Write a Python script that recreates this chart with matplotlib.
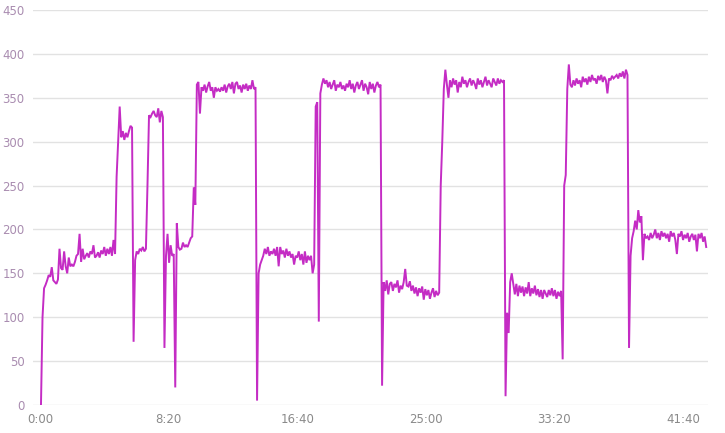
import numpy as np
import matplotlib.pyplot as plt

# power samples (watts), one every 6 seconds, recording starts at 0:04
sample_step = 6
start_sec = 4

warmup = [0, 100, 133, 137, 142, 148, 146, 157, 142, 140, 138, 143, 178, 156, 154,
          175, 158, 150, 168, 158, 160, 158, 163, 170, 172, 195, 163, 178, 166, 170,
          173, 168, 175, 172, 182, 168, 170, 174, 168, 176, 172, 180, 170, 178, 172,
          180, 170, 188, 172]
build = [260, 300, 340, 305, 312, 302, 310, 305, 312, 318, 316, 72,
         165, 175, 172, 178, 176, 180, 175, 178,
         250, 330, 328, 332, 335, 330, 328, 338, 322, 335, 328,
         65, 170, 195, 162, 182, 170, 172, 20, 207, 180, 177, 178, 185, 180, 182,
         180, 185, 190, 192]
interval_1 = [248, 228, 365, 368, 332, 362, 358, 365, 356, 363, 368, 358, 362, 350,
              362, 358, 360, 357, 362, 358, 365, 356, 363, 366, 360, 368, 355, 366,
              368, 360, 364, 356, 365, 360, 366, 358, 364, 360, 370, 360, 362]
recovery_1 = [5, 150, 160, 165, 170, 178, 172, 180, 170, 175, 172, 178, 170, 180,
              158, 180, 172, 176, 168, 178, 170, 175, 168, 172, 160, 170, 168, 175,
              165, 172, 160, 175, 162, 170, 165, 170, 150, 160]
interval_2 = [340, 345, 95, 355, 365, 372, 366, 370, 362, 368, 360, 365, 370, 358,
              365, 362, 368, 360, 364, 358, 366, 362, 370, 360, 366, 356, 364, 368,
              360, 365, 370, 358, 366, 362, 354, 368, 360, 366, 356, 364, 368, 362,
              365]
recovery_2 = [22, 140, 130, 142, 126, 138, 140, 130, 138, 134, 142, 128, 136, 132,
              140, 155, 136, 135, 141, 130, 136, 127, 134, 124, 133, 128, 135, 120,
              132, 125, 131, 121, 128, 133, 123, 130, 125, 128]
interval_3 = [250, 300, 360, 382, 365, 350, 370, 362, 372, 365, 370, 356, 368, 362,
              374, 366, 370, 362, 368, 372, 364, 370, 366, 360, 372, 365, 370, 362,
              368, 374, 364, 370, 366, 362, 372, 368, 364, 372, 366, 370, 368, 370]
recovery_3 = [10, 105, 82, 140, 150, 138, 126, 138, 124, 136, 128, 135, 124, 134,
              127, 140, 124, 133, 127, 136, 125, 132, 123, 131, 121, 131, 127, 123,
              131, 125, 133, 124, 131, 121, 129, 124, 130, 52]
interval_4 = [250, 262, 360, 388, 365, 362, 370, 364, 372, 366, 370, 362, 374, 368,
              372, 365, 374, 368, 376, 370, 372, 366, 375, 370, 376, 368, 374, 370,
              355, 372, 370, 375, 372, 374, 376, 372, 378, 374, 380, 372, 382, 376]
cooldown = [65, 170, 190, 198, 210, 200, 222, 208, 215, 165, 195, 190, 192, 188,
            196, 190, 194, 200, 190, 196, 188, 198, 192, 196, 190, 195, 186, 198,
            192, 196, 188, 172, 195, 192, 198, 188, 194, 190, 196, 186, 192, 195,
            188, 194, 175, 195, 190, 196, 186, 192, 180]

y_ticks = [0, 50, 100, 150, 200, 250, 300, 350, 400, 450]
x_ticks = [0, 500, 1000, 1500, 2000, 2500]
x_labels = ['0:00', '8:20', '16:40', '25:00', '33:20', '41:40']

watts = warmup + build + interval_1 + recovery_1 + interval_2 + recovery_2 \
    + interval_3 + recovery_3 + interval_4 + cooldown
seconds = start_sec + sample_step * np.arange(len(watts))

fig = plt.figure(figsize=(7.25, 4.33), dpi=100)
ax = fig.add_axes([33 / 725, 1 - 405 / 433, 675 / 725, 395 / 433])

ax.plot(seconds, watts, color='#c42cc4', linewidth=1.4, solid_joinstyle='miter')

ax.set_xlim(-27, 2597)
ax.set_ylim(0, 450)
ax.set_yticks(y_ticks)
ax.set_xticks(x_ticks)
ax.set_xticklabels(x_labels)
ax.grid(True, axis='y', color='#e2e2e2', linewidth=1)
ax.set_axisbelow(True)
for s in ax.spines.values():
    s.set_visible(False)
ax.tick_params(axis='both', length=0)
ax.tick_params(axis='y', colors='#a98cb0', labelsize=8.5, pad=6)
ax.tick_params(axis='x', colors='#8a8a8a', labelsize=8.5, pad=6)

fig.savefig('out.png', dpi=100)
